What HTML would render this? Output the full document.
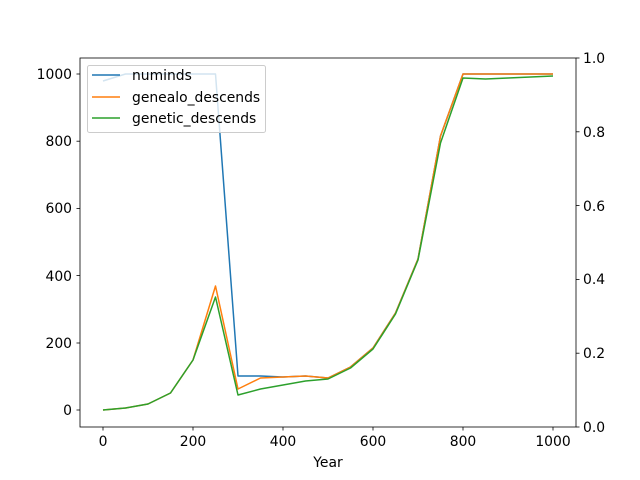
<!DOCTYPE html>
<html><head><style>body{margin:0;background:#fff}svg{display:block;font-family:"DejaVu Sans",sans-serif}</style></head><body>
<svg width="640" height="480" xmlns="http://www.w3.org/2000/svg">
<g fill="none" stroke-width="1.5" stroke-linejoin="round">
<polyline stroke="#1f77b4" points="103,81 125.5,74 148,74 170.5,74 193,74 215.5,74 238,376 260.5,376 283,377 305.5,376 328,378 350.5,367 373,348 395.5,313 418,259 440.5,136 463,74 485.5,74 508,74 530.5,74 553,74"/>
<polyline stroke="#ff7f0e" points="103,410 125.5,408 148,404 170.5,393 193,360 215.5,286 238,389 260.5,378 283,377 305.5,376 328,378 350.5,367 373,348 395.5,313 418,259 440.5,136 463,74 485.5,74 508,74 530.5,74 553,74"/>
<polyline stroke="#2ca02c" points="103,410 125.5,408 148,404 170.5,393 193,360 215.5,297 238,395 260.5,389 283,385 305.5,381 328,379 350.5,368 373,349 395.5,314 418,260 440.5,143 463,78 485.5,79 508,78 530.5,77 553,76"/>
</g>
<rect x="80" y="58" width="496" height="369" fill="none" stroke="#000" stroke-width="0.8"/>
<g stroke="#000" stroke-width="0.8">
<line x1="103" y1="427" x2="103" y2="430.5"/><line x1="193" y1="427" x2="193" y2="430.5"/><line x1="283" y1="427" x2="283" y2="430.5"/><line x1="373" y1="427" x2="373" y2="430.5"/><line x1="463" y1="427" x2="463" y2="430.5"/><line x1="553" y1="427" x2="553" y2="430.5"/>
<line x1="76.5" y1="410" x2="80" y2="410"/><line x1="76.5" y1="343" x2="80" y2="343"/><line x1="76.5" y1="275.6" x2="80" y2="275.6"/><line x1="76.5" y1="208.4" x2="80" y2="208.4"/><line x1="76.5" y1="141.2" x2="80" y2="141.2"/><line x1="76.5" y1="74" x2="80" y2="74"/>
<line x1="576" y1="427" x2="579.5" y2="427"/><line x1="576" y1="353.2" x2="579.5" y2="353.2"/><line x1="576" y1="279.4" x2="579.5" y2="279.4"/><line x1="576" y1="205.6" x2="579.5" y2="205.6"/><line x1="576" y1="131.8" x2="579.5" y2="131.8"/><line x1="576" y1="58" x2="579.5" y2="58"/>
</g>
<g font-size="13.9" fill="#000" text-anchor="middle">
<text x="103" y="446">0</text><text x="193" y="446">200</text><text x="283" y="446">400</text><text x="373" y="446">600</text><text x="463" y="446">800</text><text x="553" y="446">1000</text>
<text x="328" y="467">Year</text>
</g>
<g font-size="13.9" fill="#000" text-anchor="end">
<text x="72" y="415">0</text><text x="72" y="348">200</text><text x="72" y="281">400</text><text x="72" y="213">600</text><text x="72" y="146">800</text><text x="72" y="79">1000</text>
</g>
<g font-size="13.9" fill="#000">
<text x="583" y="432">0.0</text><text x="583" y="358">0.2</text><text x="583" y="284">0.4</text><text x="583" y="211">0.6</text><text x="583" y="137">0.8</text><text x="583" y="63">1.0</text>
</g>
<rect x="87.5" y="65.5" width="178" height="67" rx="2" fill="#fff" fill-opacity="0.8" stroke="#ccc"/>
<g stroke-width="1.5"><line x1="92" y1="75" x2="120" y2="75" stroke="#1f77b4"/><line x1="92" y1="97" x2="120" y2="97" stroke="#ff7f0e"/><line x1="92" y1="118" x2="120" y2="118" stroke="#2ca02c"/></g>
<g font-size="13.9" fill="#000"><text x="132" y="80">numinds</text><text x="132" y="102">genealo_descends</text><text x="132" y="123">genetic_descends</text></g>
</svg>
</body></html>
